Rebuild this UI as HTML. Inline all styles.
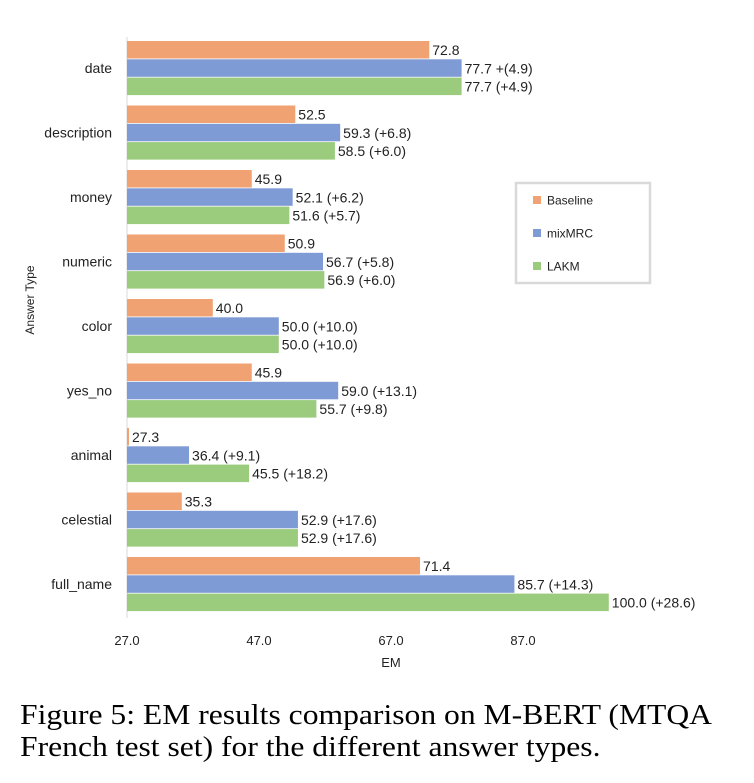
<!DOCTYPE html>
<html><head><meta charset="utf-8"><style>
body{margin:0;background:#fff;width:754px;height:783px;overflow:hidden;position:relative}
svg text{font-family:"Liberation Sans",sans-serif}
.cap{position:absolute;left:20px;top:699px;font-family:"Liberation Serif",serif;font-size:29px;line-height:32px;color:#000;white-space:nowrap;transform:scaleX(1.09);transform-origin:0 0}
</style></head><body>
<svg id="chart" width="754" height="690" style="position:absolute;left:0;top:0"></svg>
<div class="cap">Figure 5: EM results comparison on M-BERT (MTQA<br>French test set) for the different answer types.</div>
<script>
const categories=["date","description","money","numeric","color","yes_no","animal","celestial","full_name"];
const baseline=[72.8,52.5,45.9,50.9,40.0,45.9,27.3,35.3,71.4];
const mixmrc=[77.7,59.3,52.1,56.7,50.0,59.0,36.4,52.9,85.7];
const lakm=[77.7,58.5,51.6,56.9,50.0,55.7,45.5,52.9,100.0];
const mixLabels=["77.7 +(4.9)","59.3 (+6.8)","52.1 (+6.2)","56.7 (+5.8)","50.0 (+10.0)","59.0 (+13.1)","36.4 (+9.1)","52.9 (+17.6)","85.7 (+14.3)"];
const lakmLabels=["77.7 (+4.9)","58.5 (+6.0)","51.6 (+5.7)","56.9 (+6.0)","50.0 (+10.0)","55.7 (+9.8)","45.5 (+18.2)","52.9 (+17.6)","100.0 (+28.6)"];
const ticks=[27,47,67,87];
const seriesNames=["Baseline","mixMRC","LAKM"];
const colors=["#f0a272","#7f9bd5","#9bcc7d"];
const NS="http://www.w3.org/2000/svg";
const svg=document.getElementById("chart");
const X=v=>127+(v-27)*6.6;
const Y=i=>41+i*64.5;
function el(t,a,txt){const e=document.createElementNS(NS,t);for(const k in a)e.setAttribute(k,a[k]);if(txt!==undefined)e.textContent=txt;svg.appendChild(e);return e;}
const ax=el("line",{x1:127,y1:37,x2:127,y2:618,stroke:"#d9d9d9","stroke-width":1});


const series=[baseline,mixmrc,lakm];
categories.forEach((c,i)=>{
  const t=el("text",{x:112,y:Y(i)+32,"text-anchor":"end","font-size":14,fill:"#222"},c);
  
  
  series.forEach((s,j)=>{
    const y=Y(i)+j*18.3;
    const r=el("rect",{x:127,y:y,width:X(s[i])-127,height:17.5,fill:colors[j]});
    
    
    const lbl=j==0?s[i].toFixed(1):(j==1?mixLabels[i]:lakmLabels[i]);
    const l=el("text",{x:X(s[i])+3,y:y+14,"font-size":14,fill:"#222"},lbl);
    
    
  });
});
ticks.forEach(v=>{
  const t=el("text",{x:X(v),y:645,"text-anchor":"middle","font-size":13,fill:"#222"},v.toFixed(1));
  
  
});
const xt=el("text",{x:391,y:667,"text-anchor":"middle","font-size":13,fill:"#222"},"EM");


const yt=el("text",{x:0,y:0,"text-anchor":"middle","font-size":12,fill:"#222",transform:"translate(34,300) rotate(-90)"},"Answer Type");


const lb=el("rect",{x:516,y:183,width:134,height:100,fill:"#fff",stroke:"#d9d9d9","stroke-width":2.5});


seriesNames.forEach((n,j)=>{
  const y=200+j*33;
  const m=el("rect",{x:533,y:y-4,width:8,height:8,fill:colors[j]});
  
  
  const t=el("text",{x:547,y:y+4.5,"font-size":12,fill:"#222"},n);
  
  
});
</script>
</body></html>
